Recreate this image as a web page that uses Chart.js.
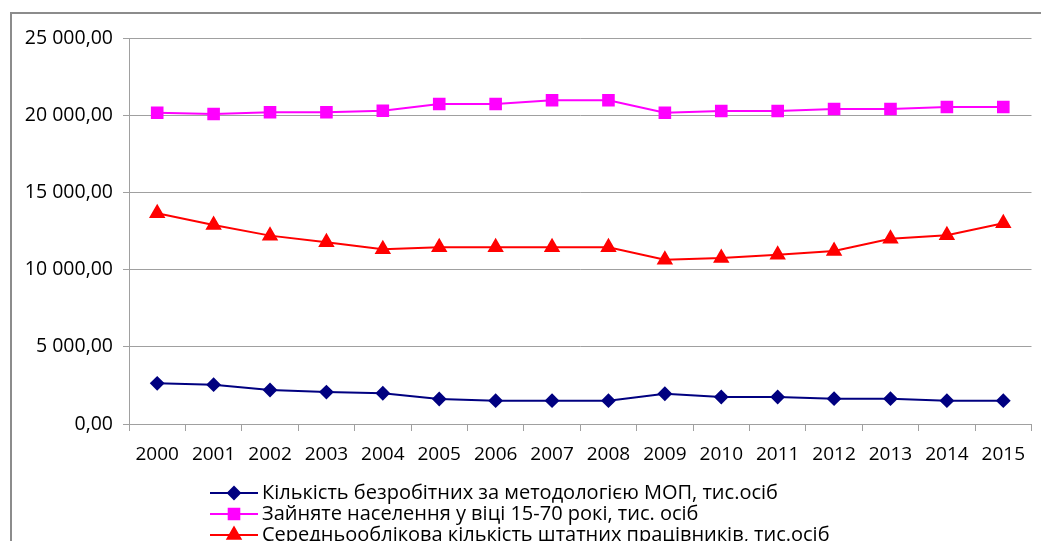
<!DOCTYPE html>
<html>
<head>
<meta charset="utf-8">
<script src="https://cdn.jsdelivr.net/npm/chart.js@4/dist/chart.umd.min.js"></script>
<style>
    body { margin: 0; background: #fff; overflow: hidden; }
    #frame { position: absolute; left: 10px; top: 12px; width: 1100px; height: 600px;
             border-left: 2px solid #8c8c8c; border-top: 2px solid #8c8c8c; }
    #wrap { position: absolute; left: 0; top: 0; width: 1041px; height: 541px; }
</style>
</head>
<body>
<div id="frame"></div>
<div id="wrap"><canvas id="lineChart" width="1041" height="541"></canvas></div>
<script>
// === DATA ===
const years = ["2000","2001","2002","2003","2004","2005","2006","2007",
               "2008","2009","2010","2011","2012","2013","2014","2015"];

const unemployed = [2635, 2545, 2200, 2070, 1990, 1620, 1510, 1510,
                    1510, 1960, 1750, 1750, 1640, 1640, 1510, 1510];

const employed = [20160, 20080, 20190, 20190, 20290, 20725, 20725, 20965,
                  20965, 20160, 20270, 20270, 20400, 20400, 20530, 20530];

const staff = [13645, 12890, 12200, 11770, 11315, 11445, 11445, 11445,
               11445, 10640, 10750, 10965, 11205, 12000, 12220, 13000];

const seriesLabels = [
    "Кількість безробітних за методологією МОП, тис.осіб",
    "Зайняте населення у віці 15-70 рокі, тис. осіб",
    "Середньооблікова кількість штатних працівників, тис.осіб"
];

// === FORMAT ===
function fmt(v) {
    return String(Math.round(v)).replace(/\B(?=(\d{3})+(?!\d))/g, " ") + ",00";
}

// === CUSTOM LEGEND (line + marker, left aligned block) ===
const legendPlugin = {
    id: "lineLegend",
    afterDraw(chart) {
        const ctx = chart.ctx;
        ctx.save();
        ctx.font = "20px 'Open Sans'";
        const x0 = 210, lineLen = 48, rowY = [493, 514, 535];
        chart.data.datasets.forEach((ds, i) => {
            const y = rowY[i];
            ctx.strokeStyle = ds.borderColor;
            ctx.lineWidth = 2;
            ctx.beginPath();
            ctx.moveTo(x0, y);
            ctx.lineTo(x0 + lineLen, y);
            ctx.stroke();
            Chart.helpers.drawPoint(ctx, {
                pointStyle: ds.pointStyle,
                radius: ds.pointRadius,
                rotation: 0,
                borderWidth: 1
            }, x0 + lineLen / 2, y);
            ctx.fillStyle = ds.pointBackgroundColor;
            ctx.fill();
            ctx.fillStyle = "#000";
            ctx.textBaseline = "middle";
            ctx.textAlign = "left";
            ctx.fillText(ds.label, x0 + lineLen + 4, y);
        });
        ctx.restore();
    }
};

// === CHART ===
const ctx = document.getElementById("lineChart").getContext("2d");

const chart = new Chart(ctx, {
    type: "line",
    data: {
        labels: years,
        datasets: [
            {
                label: seriesLabels[0],
                data: unemployed,
                borderColor: "#000080",
                backgroundColor: "#000080",
                pointBackgroundColor: "#000080",
                pointBorderColor: "#000080",
                pointStyle: "rectRot",
                pointRadius: 6,
                borderWidth: 2
            },
            {
                label: seriesLabels[1],
                data: employed,
                borderColor: "#ff00ff",
                backgroundColor: "#ff00ff",
                pointBackgroundColor: "#ff00ff",
                pointBorderColor: "#ff00ff",
                pointStyle: "rect",
                pointRadius: 7.5,
                borderWidth: 2
            },
            {
                label: seriesLabels[2],
                data: staff,
                borderColor: "#ff0000",
                backgroundColor: "#ff0000",
                pointBackgroundColor: "#ff0000",
                pointBorderColor: "#ff0000",
                pointStyle: "triangle",
                pointRadius: 7.5,
                borderWidth: 2
            }
        ]
    },
    options: {
        responsive: false,
        animation: false,
        layout: { padding: { left: 0, right: 8, top: 38, bottom: 0 } },
        plugins: {
            legend: { display: false },
            tooltip: { enabled: false }
        },
        scales: {
            x: {
                offset: true,
                grid: { offset: true, drawOnChartArea: false, drawTicks: true,
                        tickLength: 7, color: "#a0a0a0" },
                border: { color: "#a0a0a0", width: 1 },
                ticks: { color: "#000", padding: 12, maxRotation: 0,
                         font: { family: "'Open Sans'", size: 19 } },
                afterFit(scale) { scale.height = 117; }
            },
            y: {
                min: 0,
                max: 25000,
                ticks: { stepSize: 5000, color: "#000", padding: 10,
                         font: { family: "'Open Sans'", size: 19.5 },
                         callback: (v) => fmt(v) },
                grid: { color: "#a0a0a0", tickLength: 6 },
                border: { color: "#a0a0a0", width: 1 },
                afterFit(scale) { scale.width = 129; }
            }
        }
    },
    plugins: [legendPlugin]
});
</script>
</body>
</html>
